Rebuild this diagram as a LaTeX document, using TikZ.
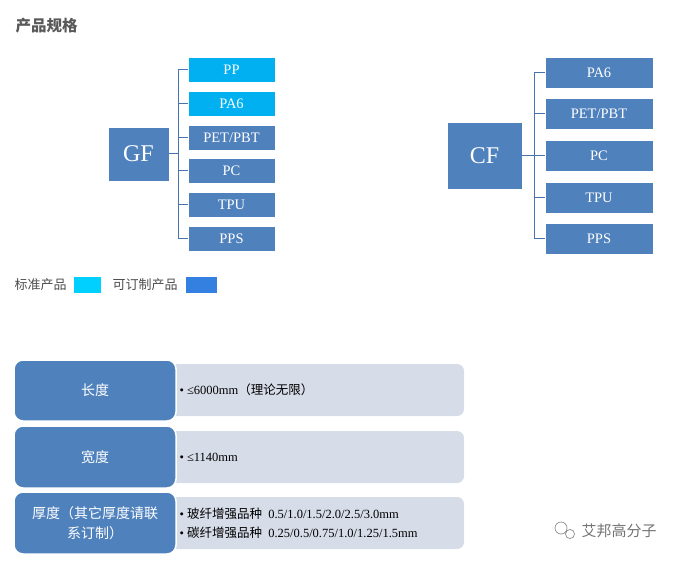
\documentclass[tikz,border=0pt]{standalone}
\usepackage{fontspec}
\setmainfont{Liberation Serif}
\newfontfamily\cjk{Noto Sans CJK SC}
\begin{document}
\begin{tikzpicture}[x=1pt,y=-1pt,
  dk/.style={fill=blue1,draw=white,line width=0.8pt,text=white},
  item/.style={dk,font=\fontsize{14.5}{16}\selectfont},
  lt/.style={fill=light,rounded corners=7pt},
  lbl/.style={dk,rounded corners=9pt,line width=1.5pt,font=\cjk\fontsize{14}{20}\selectfont,align=center},
  cn/.style={draw=blue1!90!black,line width=1pt}]
\definecolor{blue1}{HTML}{4F81BD}
\definecolor{cyanb}{HTML}{00B0F0}
\definecolor{light}{HTML}{D6DCE8}
\definecolor{c2}{HTML}{00D0FF}\definecolor{c3}{HTML}{3380E0}
\useasboundingbox (0,0) rectangle (687,561);
\node[anchor=west,font=\cjk\bfseries\fontsize{15.5}{18}\selectfont,text=black!65] (title) at (12,26) {产品规格};
% GF
\node[dk,minimum width=61pt,minimum height=54pt,font=\fontsize{24}{26}\selectfont] (gf) at (138.5,154) {GF};
\foreach \n/\t/\y/\c in {g1/PP/69.5/cyanb,g2/PA6/103.5/cyanb,g3/PET\slash PBT/137.5/blue1,g4/PC/170.5/blue1,g5/TPU/204.5/blue1,g6/PPS/238.5/blue1}{
  \node[item,fill=\c,minimum width=87pt,minimum height=25pt] (\n) at (231.5,\y) {\t};
  \draw[cn] (\n.west) -- ++(-10,0);
}
\coordinate (gv) at (178,154);
\draw[cn] (gf.east) -- (gv);
\draw[cn] (178,69.5) -- (178,238.5);
% CF
\node[dk,minimum width=75pt,minimum height=67pt,font=\fontsize{24}{26}\selectfont] (cf) at (484.5,155.5) {CF};
\foreach \n/\t/\y in {c1/PA6/72.5,c2/PET\slash PBT/113.5,c3/PC/155.5,c4/TPU/197.5,c5/PPS/238.5}{
  \node[item,minimum width=108pt,minimum height=31pt] (\n) at (599,\y) {\t};
  \draw[cn] (\n.west) -- ++(-11,0);
}
\coordinate (cv) at (534,155.5);
\draw[cn] (cf.east) -- (cv);
\draw[cn] (534,72.5) -- (534,238.5);
% legend
\node[anchor=west,font=\cjk\fontsize{13}{15}\selectfont,text=black!70] (l1) at (11,285) {标准产品};
\fill[c2] (74,277) rectangle (101,293);
\node[anchor=west,font=\cjk\fontsize{13}{15}\selectfont,text=black!70] (l2) at (109,285) {可订制产品};
\fill[c3] (186,277) rectangle (217,293);
% table
\fill[lt] (150,364) rectangle (464,416);
\fill[lt] (150,431) rectangle (464,483);
\fill[lt] (150,497) rectangle (464,549);
\node[lbl,minimum width=162pt,minimum height=61pt] (r1) at (95,390.5) {长度};
\node[lbl,minimum width=162pt,minimum height=62pt] (r2) at (95,457) {宽度};
\node[lbl,minimum width=162pt,minimum height=62pt,text width=150pt] (r3) at (95,523) {厚度（其它厚度请联\\系订制）};
\node[anchor=west,font=\fontsize{12.5}{14}\selectfont] (t1) at (176,390) {\textbullet\ ≤6000mm{\cjk\fontsize{12.5}{14}\selectfont（理论无限）}};
\node[anchor=west,font=\fontsize{12.5}{14}\selectfont] (t2) at (176,457) {\textbullet\ ≤1140mm};
\node[anchor=west,font=\fontsize{12.5}{19}\selectfont,align=left] (t3) at (176,523) {\textbullet\ {\cjk\fontsize{12.5}{14}\selectfont 玻纤增强品种}\ \ 0.5/1.0/1.5/2.0/2.5/3.0mm\\\textbullet\ {\cjk\fontsize{12.5}{14}\selectfont 碳纤增强品种}\ \ 0.25/0.5/0.75/1.0/1.25/1.5mm};
% watermark
\node[anchor=west,font=\cjk\fontsize{15}{17}\selectfont,text=black!55] (wm) at (578,531) {艾邦高分子};
\draw[black!45,line width=0.7pt] (561,528) circle (6pt) (570,534) circle (4.5pt);
\end{tikzpicture}
\end{document}
